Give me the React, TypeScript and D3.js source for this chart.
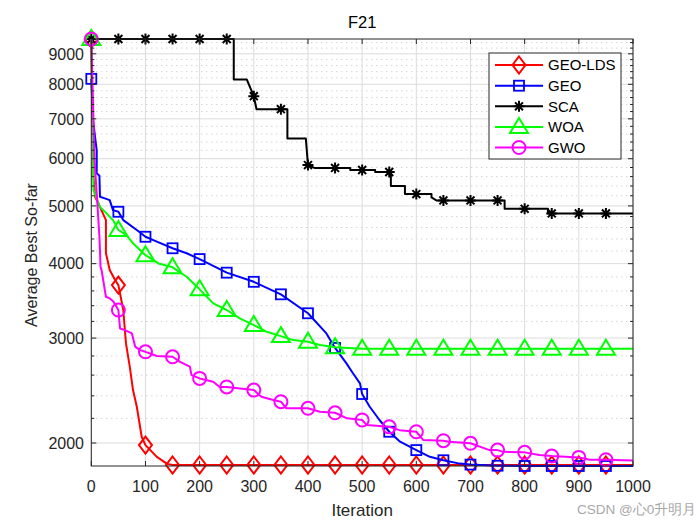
import React from 'react';
import * as d3 from 'd3';

type Pt = [number, number];

const SERIES_NAMES = ['GEO-LDS', 'GEO', 'SCA', 'WOA', 'GWO'];
const SERIES_COLORS = ['#FF0000', '#0000FF', '#000000', '#00FF00', '#FF00FF'];
const SERIES_MARKERS = ['diamond', 'square', 'star', 'triangle', 'circle'];

const X_TICKS = [0, 100, 200, 300, 400, 500, 600, 700, 800, 900, 1000];
const Y_TICKS = [2000, 3000, 4000, 5000, 6000, 7000, 8000, 9000];
const Y_MINOR = [2200, 2400, 2600, 2800, 3200, 3400, 3600, 3800, 4200, 4400, 4600, 4800,
  5200, 5400, 5600, 5800, 6200, 6400, 6600, 6800, 7200, 7400, 7600, 7800,
  8200, 8400, 8600, 8800, 9200, 9400];

const GEO_LDS: Pt[] = [
  [0, 9530], [2, 7000], [4, 5600], [7, 5180], [16, 4982], [27, 4733], [27, 4168], [34, 3902],
  [44, 3754], [50, 3682], [59, 3344], [64, 2939], [71, 2686], [77, 2454], [84, 2301], [93, 2049],
  [100, 1984], [121, 1896], [140, 1845], [150, 1837], [200, 1837], [250, 1837], [300, 1837],
  [350, 1837], [400, 1837], [450, 1837], [500, 1837], [550, 1837], [600, 1837], [650, 1837],
  [700, 1837], [750, 1837], [800, 1837], [850, 1837], [900, 1837], [950, 1837], [1000, 1837],
];

const GEO: Pt[] = [
  [0, 8170], [3, 7000], [8, 6406], [10, 6200], [10, 5671], [15, 5620], [16, 5180], [25, 5148],
  [34, 5114], [40, 4920], [50, 4888], [59, 4733], [84, 4556], [100, 4438], [121, 4354], [150, 4245],
  [176, 4164], [200, 4071], [250, 3863], [300, 3729], [350, 3553], [400, 3302], [434, 3055],
  [450, 2888], [471, 2721], [483, 2619], [496, 2518], [500, 2417], [514, 2301], [532, 2186],
  [550, 2089], [570, 2010], [600, 1946], [625, 1896], [650, 1871], [680, 1847], [700, 1840],
  [750, 1832], [800, 1830], [850, 1830], [900, 1830], [950, 1830], [1000, 1830],
];

const SCA: Pt[] = [
  [0, 9530], [50, 9530], [100, 9530], [150, 9530], [200, 9530], [250, 9530], [263, 9530],
  [263, 8152], [287, 8152], [290, 8027], [300, 7640], [305, 7266], [350, 7266], [362, 7266],
  [362, 6489], [396, 6489], [400, 5854], [412, 5790], [450, 5790], [478, 5790], [478, 5745],
  [500, 5745], [524, 5745], [524, 5700], [550, 5700], [553, 5700], [553, 5400], [579, 5400],
  [579, 5233], [600, 5233], [628, 5233], [628, 5166], [637, 5107], [650, 5107], [700, 5107],
  [750, 5107], [763, 5107], [763, 4944], [800, 4944], [843, 4944], [843, 4857], [850, 4857],
  [900, 4857], [950, 4857], [1000, 4857],
];

const WOA: Pt[] = [
  [0, 9530], [3, 6800], [4, 5314], [16, 4982], [28, 4857], [40, 4733], [50, 4556], [65, 4466],
  [77, 4328], [100, 4133], [124, 4003], [150, 3944], [176, 3802], [200, 3622], [225, 3430],
  [250, 3344], [274, 3238], [300, 3155], [324, 3074], [350, 3023], [373, 2977], [400, 2958],
  [422, 2921], [450, 2895], [500, 2880], [550, 2879], [600, 2879], [650, 2879], [700, 2879],
  [750, 2879], [800, 2879], [850, 2879], [900, 2879], [950, 2879], [1000, 2879],
];

const GWO: Pt[] = [
  [0, 9530], [3, 7500], [6, 5970], [10, 5248], [15, 4438], [16, 4215], [17, 3952], [19, 3902],
  [22, 3754], [25, 3612], [27, 3520], [34, 3498], [41, 3452], [50, 3344], [53, 3114], [62, 3094],
  [75, 3055], [81, 2902], [90, 2864], [100, 2845], [121, 2799], [150, 2791], [164, 2737],
  [182, 2686], [185, 2600], [200, 2567], [225, 2534], [237, 2484], [250, 2484], [300, 2454],
  [314, 2391], [336, 2361], [350, 2346], [360, 2287], [400, 2287], [422, 2257], [450, 2248],
  [472, 2200], [500, 2186], [508, 2145], [550, 2129], [569, 2102], [600, 2089], [613, 2023],
  [650, 2018], [660, 2010], [700, 1998], [735, 1946], [750, 1946], [760, 1933], [800, 1929],
  [827, 1909], [850, 1902], [900, 1892], [920, 1875], [950, 1875], [1000, 1870],
];

const SERIES_DATA = [GEO_LDS, GEO, SCA, WOA, GWO];

const FONT = '"Liberation Sans", Arial, Helvetica, sans-serif';
const AXIS_COLOR = '#262626';

function Marker({ type, cx, cy, color }: { type: string; cx: number; cy: number; color: string }) {
  const sw = 2;
  if (type === 'diamond') {
    const w = 6.5, h = 8.5;
    return <path d={`M${cx},${cy - h}L${cx + w},${cy}L${cx},${cy + h}L${cx - w},${cy}Z`} fill="none" stroke={color} strokeWidth={sw} />;
  }
  if (type === 'square') {
    const s = 5;
    return <rect x={cx - s} y={cy - s} width={2 * s} height={2 * s} fill="none" stroke={color} strokeWidth={1.8} />;
  }
  if (type === 'triangle') {
    return <path d={`M${cx},${cy - 9}L${cx + 9},${cy + 6}L${cx - 9},${cy + 6}Z`} fill="none" stroke={color} strokeWidth={sw} />;
  }
  if (type === 'circle') {
    return <circle cx={cx} cy={cy} r={6.5} fill="none" stroke={color} strokeWidth={sw} />;
  }
  const r = 5.5, d = r * 0.72;
  return (
    <path
      d={`M${cx},${cy - r}L${cx},${cy + r}M${cx - r},${cy}L${cx + r},${cy}M${cx - d},${cy - d}L${cx + d},${cy + d}M${cx - d},${cy + d}L${cx + d},${cy - d}`}
      stroke={color}
      strokeWidth={sw}
      fill="none"
    />
  );
}

export default function App() {
  const left = 91.3, right = 633, top = 39, bottom = 466;
  const x = d3.scaleLinear().domain([0, 1000]).range([left, right]);
  const y = d3.scaleLog().domain([1830, 9530]).range([bottom, top]);
  const line = d3.line<Pt>().x((d) => x(d[0])).y((d) => y(d[1]));

  const legendX = 489, legendY = 53, legendW = 132, legendH = 106;
  const rowY = [65, 85.7, 106.3, 127, 147.5];

  return (
    <svg
      width={700}
      height={525}
      style={{ position: 'absolute', left: 0, top: 0, background: '#fff' }}
      fontFamily={FONT}
    >
      <rect x={0} y={0} width={700} height={525} fill="#fff" />
      {Y_MINOR.map((v) => (
        <line key={'mg' + v} x1={left} x2={right} y1={y(v)} y2={y(v)} stroke="#c0c0c0" strokeWidth={1} strokeDasharray="1 4" />
      ))}
      {Y_TICKS.map((v) => (
        <line key={'yg' + v} x1={left} x2={right} y1={y(v)} y2={y(v)} stroke="#dcdcdc" strokeWidth={1} />
      ))}
      {X_TICKS.map((v) => (
        <line key={'xg' + v} x1={x(v)} x2={x(v)} y1={top} y2={bottom} stroke="#dcdcdc" strokeWidth={1} />
      ))}

      {SERIES_DATA.map((data, i) => (
        <g key={SERIES_NAMES[i]}>
          <path d={line(data) || ''} fill="none" stroke={SERIES_COLORS[i]} strokeWidth={2} strokeLinejoin="round" />
          {data
            .filter((p, j) => p[0] % 50 === 0 && p[0] < 1000 && !(j > 0 && data[j - 1][0] === p[0]))
            .map((p) => (
              <Marker key={p[0]} type={SERIES_MARKERS[i]} cx={x(p[0])} cy={y(p[1])} color={SERIES_COLORS[i]} />
            ))}
        </g>
      ))}

      <rect x={left} y={top} width={right - left} height={bottom - top} fill="none" stroke={AXIS_COLOR} strokeWidth={1} />
      {X_TICKS.map((v) => (
        <g key={'xt' + v}>
          <line x1={x(v)} x2={x(v)} y1={bottom} y2={bottom - 5} stroke={AXIS_COLOR} />
          <line x1={x(v)} x2={x(v)} y1={top} y2={top + 5} stroke={AXIS_COLOR} />
          <text x={x(v)} y={492} textAnchor="middle" fontSize={16} fill={AXIS_COLOR}>{v}</text>
        </g>
      ))}
      {Y_TICKS.map((v) => (
        <g key={'yt' + v}>
          <line x1={left} x2={left + 5} y1={y(v)} y2={y(v)} stroke={AXIS_COLOR} />
          <line x1={right} x2={right - 5} y1={y(v)} y2={y(v)} stroke={AXIS_COLOR} />
          <text x={84} y={y(v)} dy="0.36em" textAnchor="end" fontSize={16} fill={AXIS_COLOR}>{v}</text>
        </g>
      ))}
      {Y_MINOR.map((v) => (
        <g key={'ym' + v}>
          <line x1={left} x2={left + 3} y1={y(v)} y2={y(v)} stroke={AXIS_COLOR} />
          <line x1={right} x2={right - 3} y1={y(v)} y2={y(v)} stroke={AXIS_COLOR} />
        </g>
      ))}

      <text x={(left + right) / 2} y={28} textAnchor="middle" fontSize={16.5} fill="#000">F21</text>
      <text x={(left + right) / 2} y={516} textAnchor="middle" fontSize={17} fill={AXIS_COLOR}>Iteration</text>
      <text
        transform={`translate(37,255) rotate(-90)`}
        textAnchor="middle"
        fontSize={16}
        fill={AXIS_COLOR}
      >
        Average Best So-far
      </text>

      <rect x={legendX} y={legendY} width={legendW} height={legendH} fill="#fff" stroke={AXIS_COLOR} strokeWidth={1} />
      {SERIES_NAMES.map((name, i) => (
        <g key={'lg' + name}>
          <line x1={495} x2={543} y1={rowY[i]} y2={rowY[i]} stroke={SERIES_COLORS[i]} strokeWidth={2} />
          <Marker type={SERIES_MARKERS[i]} cx={519} cy={rowY[i]} color={SERIES_COLORS[i]} />
          <text x={548} y={rowY[i]} dy="0.36em" fontSize={15} fill="#000">{name}</text>
        </g>
      ))}

      <text x={577} y={514} fontSize={13.5} fill="#a8a8a8">CSDN @心0升明月</text>
    </svg>
  );
}
